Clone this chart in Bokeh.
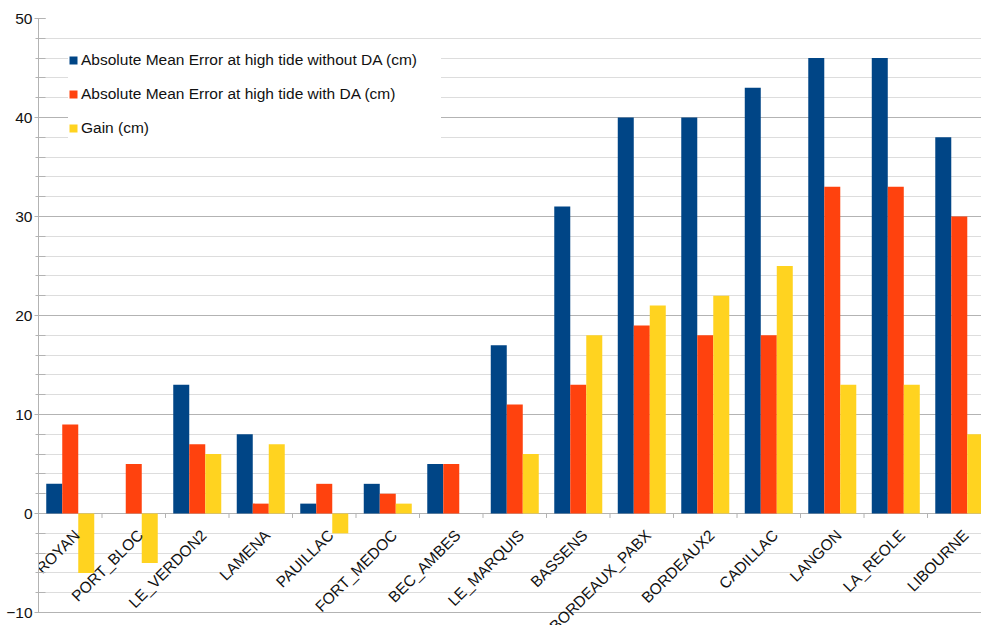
import numpy as np
from bokeh.plotting import figure
from bokeh.models import Range1d, SingleIntervalTicker, ColumnDataSource
from bokeh.core.properties import value
from bokeh.embed import file_html
from bokeh.resources import INLINE

stations = ["ROYAN", "PORT_BLOC", "LE_VERDON2", "LAMENA", "PAUILLAC", "FORT_MEDOC",
            "BEC_AMBES", "LE_MARQUIS", "BASSENS", "BORDEAUX_PABX", "BORDEAUX2",
            "CADILLAC", "LANGON", "LA_REOLE", "LIBOURNE"]
err_without_da = [3, 0, 13, 8, 1, 3, 5, 17, 31, 40, 40, 43, 46, 46, 38]
err_with_da = [9, 5, 7, 1, 3, 2, 5, 11, 13, 19, 18, 18, 33, 33, 30]
gain = [-6, -5, 6, 7, -2, 1, 0, 6, 18, 21, 22, 25, 13, 13, 8]
series_names = ["Absolute Mean Error at high tide without DA (cm)",
                "Absolute Mean Error at high tide with DA (cm)",
                "Gain (cm)"]
colors = ["#004586", "#ff420e", "#ffd320"]

FONT = "Liberation Sans"
n = len(stations)
centers = np.arange(n) + 0.5
bar_w = 0.252

p = figure(width=981, height=625, x_range=Range1d(0, 14.85), y_range=Range1d(-11.31, 50),
           output_backend="svg", toolbar_location=None, x_axis_location=None,
           min_border_left=38, min_border_top=18, min_border_bottom=0, min_border_right=0)
p.outline_line_color = None
p.background_fill_color = "white"

for i, (vals, name, col) in enumerate(zip([err_without_da, err_with_da, gain], series_names, colors)):
    src = ColumnDataSource(dict(x=centers + (i - 1) * bar_w, top=vals))
    p.vbar(x="x", top="top", bottom=0, width=bar_w, source=src, fill_color=col,
           line_color=None, legend_label=name)

# category boundary ticks on the zero line
bounds = np.arange(n + 1)
p.segment(x0=bounds, y0=np.zeros(n + 1), x1=bounds, y1=np.full(n + 1, -0.45),
          line_color="#b3b3b3", line_width=1)

# category labels along the zero line, rotated 45 degrees
lab = ColumnDataSource(dict(x=centers, y=np.zeros(n), text=stations))
p.text(x="x", y="y", text="text", source=lab, angle=np.pi / 4,
       text_align="right", text_baseline="middle", x_offset=6.5, y_offset=19,
       text_font=value(FONT), text_font_size="15.5px", text_color="#111111")

ticker = SingleIntervalTicker(interval=10, num_minor_ticks=5)
p.yaxis.ticker = ticker
p.yaxis.bounds = (-10, 50)
p.ygrid.ticker = ticker
p.ygrid.grid_line_color = "#b3b3b3"
p.ygrid.minor_grid_line_color = "#dddddd"
p.xgrid.visible = False
p.yaxis.axis_line_color = "#b3b3b3"
p.yaxis.major_tick_line_color = "#b3b3b3"
p.yaxis.minor_tick_line_color = "#b3b3b3"
p.yaxis.major_tick_in = 7
p.yaxis.major_tick_out = 4
p.yaxis.minor_tick_in = 7
p.yaxis.minor_tick_out = 3
p.yaxis.major_label_standoff = 2
p.yaxis.major_label_text_font = FONT
p.yaxis.major_label_text_font_size = "15.5px"
p.yaxis.major_label_text_color = "#111111"

lg = p.legend[0]
lg.location = "top_left"
lg.margin = 30
lg.padding = 20
lg.spacing = 10
lg.glyph_width = 10
lg.glyph_height = 10
lg.label_height = 24
lg.label_width = 360
lg.label_standoff = 3
lg.label_text_font = FONT
lg.label_text_font_size = "15.5px"
lg.label_text_color = "#111111"
lg.border_line_color = None
lg.background_fill_color = "white"
lg.background_fill_alpha = 1.0

open("out.html", "w").write(file_html(p, INLINE))
